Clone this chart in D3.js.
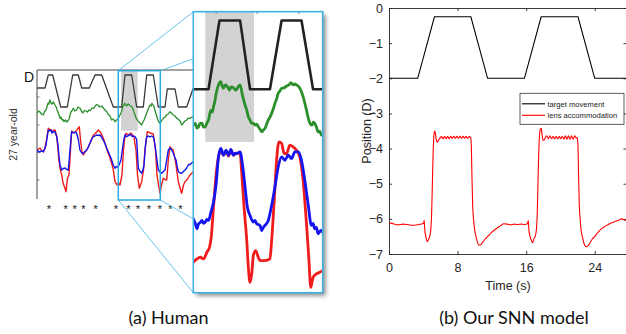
<!DOCTYPE html>
<html>
<head>
<meta charset="utf-8">
<script src="https://cdnjs.cloudflare.com/ajax/libs/d3/7.8.5/d3.min.js"></script>
<style>
  body { margin: 0; background: #fff; }
  svg { display: block; }
</style>
</head>
<body>
<svg id="fig" width="626" height="334"></svg>
<script>
// ---------- (a) human recording: overview strip, [time, stacked display value] ----------
const humanTarget = [[0,11.1],[2.67,11.1],[3.77,12.4],[5.23,12.4],[7.9,9.2],[10.1,9.2],[11.9,12.4],[13.77,12.4],
  [14.9,11.1],[17.43,11.1],[19.33,12.4],[21.57,12.4],[25.43,9.2],[28.23,9.2],[29.33,12.4],[31.57,12.4],[33.23,9.2],
  [35.43,9.2],[36.57,12.4],[38.77,12.4],[40.43,9.2],[42.67,9.2],[43.43,11.0],[46,11.0],[47.1,9.2],[49.9,9.2],[52.1,11.1]];

const humanPupil = [[0,8.57],[0.5,8.8],[1,8.7],[1.5,8.5],[2.1,8.4],[2.5,8.75],[3,8.9],[3.4,9.3],[3.7,9.6],[4,9.5],
  [4.3,9.9],[4.7,9.6],[5,9.5],[5.5,9.7],[6,9.4],[6.4,9.2],[6.7,8.9],[7.2,8.5],[7.7,8.07],[8,8.2],[8.3,7.9],[8.7,7.95],
  [9,7.73],[9.5,7.9],[10,7.7],[10.4,7.85],[10.7,8.0],[11,8.4],[11.3,8.7],[11.7,8.85],[12.1,9.07],[12.6,8.8],[13.2,8.9],
  [13.7,9.2],[14.3,9.1],[14.8,8.8],[15.3,8.6],[15.8,8.85],[16.3,8.8],[16.8,8.7],[17.3,8.9],[17.8,8.85],[18.3,9.1],
  [18.8,9.05],[19.3,9.23],[19.8,9.45],[20.3,9.4],[20.9,9.2],[21.6,9.3],[22.1,9.1],[22.7,8.9],[23.2,8.75],[23.7,8.5],
  [24.3,8.3],[24.9,7.9],[25.4,8.0],[26,7.73],[26.5,7.9],[27,8.0],[27.5,8.3],[28,8.6],[28.4,9.0],[28.7,9.3],[29,9.4],
  [29.3,9.57],[29.8,9.3],[30.4,9.5],[31,9.35],[31.6,9.23],[32,9.0],[32.3,8.7],[32.7,8.4],[33,8.1],[33.4,7.95],
  [33.8,7.73],[34.3,7.6],[34.9,7.4],[35.3,7.7],[35.7,7.9],[36.2,8.3],[36.7,8.7],[37.2,9.1],[37.7,9.4],[38,9.3],
  [38.3,9.57],[38.7,9.4],[39,9.2],[39.4,8.8],[39.7,8.5],[40,8.2],[40.3,7.9],[40.6,7.7],[41,7.57],[41.5,7.8],
  [42.1,8.07],[42.7,8.2],[43.2,8.4],[43.8,8.5],[44.3,8.73],[44.8,8.6],[45.4,8.4],[46,8.3],[46.6,8.07],[47.2,7.95],
  [47.7,7.8],[48.2,7.4],[48.8,7.6],[49.3,7.8],[49.9,7.9],[50.4,8.07],[51.2,8.1],[52.1,8.23]];

const humanLeftEye = [[0,4.9],[1,5.1],[1.6,4.8],[2.1,4.7],[2.6,5.1],[3,5.6],[3.4,6.4],[3.77,7.07],[4.3,6.9],[4.7,6.95],
  [5,6.7],[5.5,6.85],[6,6.9],[6.57,6.3],[7,4.9],[7.3,3.9],[7.67,3.1],[8.23,2.4],[8.67,1.6],[9.33,1.07],[9.67,0.73],
  [10.17,2.1],[10.67,2.4],[10.9,3.6],[11.17,4.9],[11.57,6.8],[12.33,6.6],[12.8,6.75],[13.33,6.9],[14.1,7.23],
  [14.5,5.9],[15,4.7],[15.43,4.4],[16,4.7],[16.57,4.9],[17.1,5.2],[17.67,5.6],[18.2,6.0],[18.77,6.4],[19.3,6.5],
  [19.9,6.7],[20.43,6.9],[21.33,6.6],[22.33,5.9],[23.33,4.9],[24.33,4.1],[25.33,3.1],[26,1.73],[26.67,1.4],
  [27.2,1.6],[27.67,1.4],[28.33,2.4],[28.83,4.9],[29.2,6.0],[29.67,6.57],[30.2,6.45],[30.67,6.4],[31.2,6.6],
  [31.67,6.5],[32.3,6.2],[33,4.9],[33.5,2.4],[34.1,1.07],[34.5,1.4],[34.9,1.73],[35.5,2.9],[36,4.9],[36.77,6.73],
  [37.2,6.7],[37.67,6.6],[38.2,6.55],[38.77,6.5],[39.5,4.9],[40,2.4],[40.5,1.4],[41,0.57],[41.5,1.4],[42.1,2.07],
  [42.7,1.95],[43.23,1.9],[43.77,3.9],[44.33,5.23],[44.9,5.0],[45.43,4.9],[46.33,3.4],[47.1,1.73],[47.7,1.1],
  [48.23,0.57],[48.83,1.4],[49.33,1.73],[50.2,2.0],[51,2.4],[52.1,2.73]];

const humanRightEye = [[0,4.9],[0.5,4.75],[1,4.7],[1.5,4.85],[2.1,4.73],[2.6,5.0],[3,5.4],[3.4,6.2],[3.77,6.9],[4.3,6.8],
  [4.7,6.9],[5,6.6],[5.5,6.75],[6,6.7],[6.57,6.23],[7,5.4],[7.3,4.4],[7.67,3.4],[8.23,2.9],[8.8,3.05],[9.3,3.1],
  [9.9,2.95],[10.4,2.9],[10.7,3.8],[11,4.9],[11.3,6.0],[11.57,6.73],[12,6.65],[12.3,6.6],[12.8,6.7],[13.2,6.57],
  [13.8,5.9],[14.3,4.9],[14.9,4.6],[15.43,4.57],[16,4.75],[16.57,4.9],[17.1,5.2],[17.67,5.6],[18.2,5.95],[18.77,6.23],
  [19.3,6.3],[19.9,6.4],[20.5,6.35],[21,6.4],[21.5,6.2],[22,5.9],[22.67,5.57],[23.2,5.1],[23.77,4.73],[24.2,4.4],
  [24.67,4.1],[25.1,3.7],[25.43,3.4],[26,3.07],[26.5,3.25],[27,3.2],[27.5,3.5],[28,3.9],[28.3,4.6],[28.67,5.4],
  [29,6.0],[29.33,6.4],[29.8,6.25],[30.33,6.3],[30.8,6.45],[31.33,6.4],[31.8,6.25],[32.33,6.3],[32.8,6.2],[33.23,5.9],
  [33.5,4.5],[33.77,3.07],[34.3,2.8],[34.9,2.57],[35.3,2.9],[35.67,3.4],[35.9,4.4],[36.17,5.4],[36.57,6.23],[37.1,6.3],
  [37.67,6.2],[38.2,6.3],[38.77,6.2],[39.05,5.9],[39.33,5.4],[39.9,4.1],[40.43,2.9],[41,2.7],[41.57,2.57],[42.1,2.75],
  [42.67,2.9],[43.23,3.9],[43.77,4.9],[44.33,5.1],[44.9,4.9],[45.43,4.6],[45.9,4.2],[46.33,3.9],[46.7,3.3],[47.1,2.73],
  [47.7,2.6],[48.23,2.57],[48.8,2.75],[49.33,2.9],[49.9,3.1],[50.43,3.4],[51.2,3.5],[52.1,3.73]];

const starTimes = [4, 9.57, 12.57, 15.43, 19.57, 26.33, 30.43, 33.67, 37.33, 41, 44.43, 47.77];
const overviewWindow = [27.1, 41.1];   // part of the strip shown enlarged
const overviewShade = [28, 33.57];

// ---------- (a) enlarged window ----------
const zoomTarget = [[0,20.27],[1.53,20.27],[2.63,27.13],[4.7,27.13],[5.7,20.27],[7.7,20.27],[8.87,27.13],
  [10.87,27.13],[12.03,20.27],[13,20.27]];
const zoomPupil = [[0,16.7],[0.2,16.87],[0.37,16.4],[0.53,16.53],[0.7,16.9],[0.87,16.87],[1.03,16.5],[1.2,16.53],
  [1.37,16.9],[1.53,17.2],[1.77,18.2],[1.9,18.0],[2.03,18.53],[2.17,19.1],[2.3,19.87],[2.53,20.7],[2.77,21.03],
  [2.9,20.6],[3.03,20.37],[3.2,20.7],[3.37,20.6],[3.5,20.4],[3.63,20.2],[3.8,20.5],[3.97,20.47],[4.13,20.3],
  [4.3,20.2],[4.5,20.5],[4.7,20.7],[4.97,19.53],[5.2,18.7],[5.37,18.2],[5.53,17.53],[5.7,17.2],[5.87,16.87],
  [6.03,16.9],[6.2,16.7],[6.37,16.8],[6.53,16.53],[6.7,16.3],[6.87,16.03],[7.03,16.2],[7.2,16.37],[7.37,16.8],
  [7.53,17.2],[7.7,17.5],[7.87,17.87],[8.03,18.3],[8.2,18.87],[8.37,19.3],[8.53,19.87],[8.7,20.1],[8.87,20.37],
  [9.1,20.4],[9.37,20.6],[9.6,20.7],[9.8,20.93],[10.03,20.7],[10.2,20.8],[10.37,20.7],[10.53,20.6],[10.7,20.37],
  [10.87,20.0],[11.03,19.53],[11.2,18.9],[11.37,18.2],[11.6,17.2],[11.77,16.8],[11.93,16.7],[12.07,17.0],
  [12.2,16.87],[12.37,16.5],[12.53,16.03],[12.7,16.1],[12.87,15.7],[13,15.8]];
const zoomLeftEye = [[0,3.03],[0.37,3.37],[0.7,3.53],[1.03,3.37],[1.37,4.03],[1.63,4.53],[1.8,5.53],[2.03,8.53],
  [2.3,11.87],[2.53,13.53],[2.77,14.2],[3.03,13.7],[3.3,14.1],[3.53,13.6],[3.77,14.2],[4.03,13.7],[4.37,13.9],
  [4.7,13.87],[4.87,11.87],[5.1,8.53],[5.37,5.2],[5.53,2.53],[5.7,1.03],[5.87,1.87],[6.03,3.7],[6.27,4.2],
  [6.53,3.53],[6.7,3.2],[7.2,3.2],[7.7,3.37],[7.87,5.2],[8.13,9.2],[8.37,13.2],[8.6,15.03],[8.87,14.87],
  [9.13,13.87],[9.37,13.87],[9.7,14.7],[10.03,14.53],[10.37,14.2],[10.7,13.53],[11.03,11.2],[11.37,6.87],
  [11.6,3.53],[11.8,0.53],[12.03,1.53],[12.37,1.87],[12.7,2.03],[13,2.2]];
const zoomRightEye = [[0,7.37],[0.2,6.9],[0.37,6.37],[0.53,6.87],[0.7,7.0],[0.87,7.2],[1.03,6.9],[1.2,7.03],
  [1.37,7.3],[1.53,7.2],[1.77,8.03],[2.03,9.03],[2.3,10.87],[2.53,13.53],[2.77,14.37],[3.03,13.7],[3.3,14.2],
  [3.53,13.7],[3.77,14.27],[4.03,13.7],[4.2,13.9],[4.37,13.87],[4.7,14.03],[4.97,12.53],[5.2,10.53],[5.43,8.53],
  [5.7,7.7],[6.03,7.03],[6.2,7.2],[6.37,6.87],[6.7,6.7],[6.87,6.2],[7.03,6.5],[7.2,6.7],[7.53,7.2],[7.87,8.7],
  [8.2,10.53],[8.53,12.53],[8.87,13.53],[9.2,13.2],[9.53,13.7],[9.87,13.37],[10.2,14.03],[10.53,14.03],
  [10.87,13.2],[11.2,11.2],[11.53,8.87],[11.87,6.7],[12.03,6.9],[12.2,6.37],[12.37,6.5],[12.53,5.87],
  [12.7,6.1],[12.87,6.2],[13,6.0]];
const zoomShade = [1.2, 6.1];
const zoomShadeLow = 15.03;
const zoomTopTicks = [2.3, 6.43, 10.6];

// ---------- (b) SNN model, [time (s), position (D)] ----------
const modelTarget = [[0,-2],[3.35,-2],[5.3,-0.25],[9.55,-0.25],[11.5,-2],[15.8,-2],[17.75,-0.25],[22.05,-0.25],
  [24.0,-2],[28,-2]];
const modelLens = [[0,-6.11],[0.5,-6.14],[1.1,-6.17],[1.6,-6.15],[2.1,-6.16],[2.6,-6.18],[3.0,-6.18],[3.5,-6.16],
  [3.9,-6.14],[4.05,-6.12],[4.1,-6.04],[4.17,-6.3],[4.3,-6.5],[4.47,-6.65],[4.62,-6.58],[4.75,-6.5],[4.88,-6.3],
  [4.98,-5.8],[5.06,-5.0],[5.14,-4.2],[5.22,-3.7],[5.3,-3.52],[5.36,-3.5],[5.44,-3.62],[5.54,-3.78],[5.64,-3.82],
  [5.78,-3.76],[5.95,-3.7],[6.12,-3.66],[6.3,-3.72],[6.48,-3.65],[6.66,-3.72],[6.84,-3.65],[7.02,-3.72],[7.2,-3.65],
  [7.38,-3.71],[7.56,-3.65],[7.74,-3.71],[7.92,-3.65],[8.1,-3.71],[8.28,-3.65],[8.46,-3.71],[8.64,-3.65],[8.82,-3.71],
  [9.0,-3.65],[9.18,-3.71],[9.36,-3.66],[9.52,-3.68],[9.6,-3.9],[9.68,-4.8],[9.76,-5.6],[9.86,-6.0],[9.96,-6.25],
  [10.1,-6.45],[10.3,-6.65],[10.5,-6.75],[10.7,-6.74],[10.9,-6.67],[11.2,-6.58],[11.6,-6.48],[12.0,-6.38],
  [12.5,-6.28],[13.0,-6.2],[13.4,-6.14],[13.8,-6.15],[14.2,-6.17],[14.6,-6.15],[15.0,-6.16],[15.4,-6.15],
  [15.8,-6.16],[16.15,-6.14],[16.25,-6.05],[16.32,-6.3],[16.45,-6.5],[16.62,-6.62],[16.75,-6.68],[16.9,-6.57],
  [17.05,-6.5],[17.2,-6.3],[17.3,-5.8],[17.38,-5.0],[17.46,-4.2],[17.54,-3.7],[17.62,-3.48],[17.7,-3.42],
  [17.78,-3.45],[17.88,-3.65],[17.98,-3.76],[18.1,-3.76],[18.25,-3.68],[18.42,-3.64],[18.6,-3.72],[18.78,-3.64],
  [18.96,-3.72],[19.14,-3.65],[19.32,-3.72],[19.5,-3.66],[19.68,-3.72],[19.86,-3.66],[20.04,-3.72],[20.22,-3.65],
  [20.4,-3.73],[20.58,-3.64],[20.76,-3.73],[20.94,-3.64],[21.12,-3.74],[21.3,-3.64],[21.48,-3.74],[21.66,-3.64],
  [21.84,-3.7],[21.96,-3.68],[22.04,-3.9],[22.12,-4.8],[22.2,-5.6],[22.3,-6.0],[22.4,-6.3],[22.55,-6.5],
  [22.75,-6.7],[22.95,-6.79],[23.15,-6.78],[23.4,-6.7],[23.7,-6.58],[24.0,-6.5],[24.4,-6.38],[24.8,-6.28],
  [25.3,-6.2],[25.8,-6.13],[26.3,-6.08],[26.8,-6.04],[27.15,-6.0],[27.5,-6.04],[28,-6.03]];
const modelYTicks = [-7, -6, -5, -4, -3, -2, -1, 0];
const modelXTicks = [0, 8, 16, 24];
const legendLabels = ["target movement", "lens accommodation"];
const legendColors = ["#000000", "#ff0000"];

const captions = ["(a) Human", "(b) Our SNN model"];

const fig = d3.select("#fig");
const ink = "#262626";

// ---------------------------------------------------------------- overview strip
const overX = d3.scaleLinear().domain([0, 52]).range([37, 193]);
const overY = d3.scaleLinear().domain([0, 12.9]).range([199, 70]);

const drawOverview = () => {
  const g = fig.append("g");
  const line = d3.line().x((d) => overX(d[0])).y((d) => overY(d[1]));

  g.append("rect")
    .attr("x", overX(overviewShade[0]))
    .attr("y", overY(12.9))
    .attr("width", overX(overviewShade[1]) - overX(overviewShade[0]))
    .attr("height", overY(6.83) - overY(12.9))
    .attr("fill", "#d2d2d2");

  // frame: top and left only
  g.append("path")
    .attr("d", `M${overX(52)},${overY(12.9)}H${overX(0)}V${overY(0)}`)
    .attr("fill", "none").attr("stroke", "#444").attr("stroke-width", 1);
  g.selectAll("line.tick").data([1.9, 4.65, 7.4, 10.2]).enter().append("line")
    .attr("x1", overX(0)).attr("x2", overX(0) + 2.5)
    .attr("y1", (d) => overY(d)).attr("y2", (d) => overY(d))
    .attr("stroke", "#555").attr("stroke-width", 0.8);

  const traces = [
    [humanTarget, "#3a3a3a", 1.3],
    [humanPupil, "#2b8f2b", 1.3],
    [humanLeftEye, "#f01c1c", 1.4],
    [humanRightEye, "#1414f0", 1.4],
  ];
  traces.forEach(([data, color, w]) => {
    g.append("path").datum(data).attr("d", line)
      .attr("fill", "none").attr("stroke", color).attr("stroke-width", w)
      .attr("stroke-linejoin", "round");
  });

  g.selectAll("text.star").data(starTimes).enter().append("text")
    .attr("x", (d) => overX(d)).attr("y", 213)
    .attr("text-anchor", "middle")
    .attr("font-family", "Liberation Sans, Arial, sans-serif")
    .attr("font-size", 11).attr("fill", "#111")
    .text("*");

  g.append("text").attr("x", overX(0) - 3).attr("y", overY(11.7))
    .attr("text-anchor", "end")
    .attr("font-family", "Liberation Sans, Arial, sans-serif")
    .attr("font-size", 14).attr("fill", "#111").text("D");

  g.append("text")
    .attr("transform", `translate(17,${(overY(0) + overY(12.9)) / 2 + 0}) rotate(-90)`)
    .attr("text-anchor", "middle")
    .attr("font-family", "Liberation Sans, Arial, sans-serif")
    .attr("font-size", 10.5).attr("fill", "#333").text("27 year-old");
};

// ---------------------------------------------------------------- enlarged panel
const zoomX = d3.scaleLinear().domain([0, 13]).range([193.3, 322.7]);
const zoomY = d3.scaleLinear().domain([0, 28]).range([292.7, 11.7]);

const drawConnectors = () => {
  const bx0 = overX(overviewWindow[0]), bx1 = overX(overviewWindow[1]);
  const by0 = overY(12.9) + 0.7, by1 = overY(0) + 1;
  const [px0, px1] = zoomX.range();
  const [py1, py0] = zoomY.range();
  const links = [[bx0, by0, px0, py0], [bx1, by0, px1, py0], [bx0, by1, px0, py1], [bx1, by1, px1, py1]];
  fig.append("g").selectAll("line").data(links).enter().append("line")
    .attr("x1", (d) => d[0]).attr("y1", (d) => d[1])
    .attr("x2", (d) => d[2]).attr("y2", (d) => d[3])
    .attr("stroke", "#55bde8").attr("stroke-width", 0.9);
  fig.append("rect")
    .attr("x", bx0).attr("y", by0).attr("width", bx1 - bx0).attr("height", by1 - by0)
    .attr("fill", "none").attr("stroke", "#2aa8e0").attr("stroke-width", 1.5);
};

const drawZoom = () => {
  const defs = fig.append("defs");
  const f = defs.append("filter").attr("id", "shadow")
    .attr("x", "-10%").attr("y", "-10%").attr("width", "130%").attr("height", "130%");
  f.append("feDropShadow").attr("dx", 3).attr("dy", 3).attr("stdDeviation", 2.2)
    .attr("flood-color", "#000").attr("flood-opacity", 0.45);
  defs.append("clipPath").attr("id", "zoomClip").append("rect")
    .attr("x", zoomX(0)).attr("y", zoomY(28))
    .attr("width", zoomX(13) - zoomX(0)).attr("height", zoomY(0) - zoomY(28));

  const g = fig.append("g");
  g.append("rect")
    .attr("x", zoomX(0)).attr("y", zoomY(28))
    .attr("width", zoomX(13) - zoomX(0)).attr("height", zoomY(0) - zoomY(28))
    .attr("fill", "#fff").attr("filter", "url(#shadow)");

  const inner = g.append("g").attr("clip-path", "url(#zoomClip)");
  inner.append("rect")
    .attr("x", zoomX(zoomShade[0])).attr("y", zoomY(28))
    .attr("width", zoomX(zoomShade[1]) - zoomX(zoomShade[0]))
    .attr("height", zoomY(zoomShadeLow) - zoomY(28))
    .attr("fill", "#d3d3d3");
  inner.selectAll("line.tt").data(zoomTopTicks).enter().append("line")
    .attr("x1", (d) => zoomX(d)).attr("x2", (d) => zoomX(d))
    .attr("y1", zoomY(28)).attr("y2", zoomY(28) + 2)
    .attr("stroke", "#888").attr("stroke-width", 1.2);

  const line = d3.line().x((d) => zoomX(d[0])).y((d) => zoomY(d[1])).curve(d3.curveMonotoneX);
  const traces = [
    [zoomTarget, "#222", 2.6, d3.curveLinear],
    [zoomPupil, "#2b8f2b", 2.8, d3.curveMonotoneX],
    [zoomLeftEye, "#f01c1c", 2.8, d3.curveMonotoneX],
    [zoomRightEye, "#1414f0", 2.8, d3.curveMonotoneX],
  ];
  traces.forEach(([data, color, w, curve]) => {
    inner.append("path").datum(data).attr("d", line.curve(curve))
      .attr("fill", "none").attr("stroke", color).attr("stroke-width", w)
      .attr("stroke-linejoin", "round").attr("stroke-linecap", "round");
  });

  g.append("rect")
    .attr("x", zoomX(0)).attr("y", zoomY(28))
    .attr("width", zoomX(13) - zoomX(0)).attr("height", zoomY(0) - zoomY(28))
    .attr("fill", "none").attr("stroke", "#3fb2e4").attr("stroke-width", 1.6);
};

// ---------------------------------------------------------------- model panel
const modelX = d3.scaleLinear().domain([0, 28]).range([389, 629]);
const modelY = d3.scaleLinear().domain([-7, 0]).range([254, 8]);

const drawModel = () => {
  const g = fig.append("g").attr("font-family", "Liberation Sans, Arial, sans-serif");

  const yAxis = d3.axisLeft(modelY).tickValues(modelYTicks).tickSizeInner(-3).tickSizeOuter(0)
    .tickPadding(6).tickFormat(d3.format("d"));
  const xAxis = d3.axisBottom(modelX).tickValues(modelXTicks).tickSizeInner(-3).tickSizeOuter(0)
    .tickPadding(9);
  const topAxis = d3.axisTop(modelX).tickValues(modelXTicks).tickSizeInner(-3).tickSizeOuter(0).tickFormat("");
  const rightAxis = d3.axisRight(modelY).tickValues(modelYTicks).tickSizeInner(-3).tickSizeOuter(0).tickFormat("");

  const styleAxis = (sel) => {
    sel.select(".domain").attr("stroke", ink).attr("stroke-width", 0.9);
    sel.selectAll(".tick line").attr("stroke", ink).attr("stroke-width", 0.9);
    sel.selectAll(".tick text").attr("fill", ink).attr("font-size", 12.5);
  };
  g.append("g").attr("transform", `translate(${modelX(0)},0)`).call(yAxis).call(styleAxis);
  g.append("g").attr("transform", `translate(0,${modelY(-7)})`).call(xAxis).call(styleAxis);
  g.append("g").attr("transform", `translate(0,${modelY(0)})`).call(topAxis).call(styleAxis);
  g.append("g").attr("transform", `translate(${modelX(28) - 2.5},0)`).call(rightAxis).call(styleAxis);

  const line = d3.line().x((d) => modelX(d[0])).y((d) => modelY(d[1]));
  g.append("path").datum(modelTarget).attr("d", line)
    .attr("fill", "none").attr("stroke", "#000").attr("stroke-width", 1.1);
  g.append("path").datum(modelLens).attr("d", line.curve(d3.curveMonotoneX))
    .attr("fill", "none").attr("stroke", "#ff0000").attr("stroke-width", 1.1);

  // legend
  const lx = 520, ly = 93.3;
  const leg = g.append("g").attr("transform", `translate(${lx},${ly})`);
  leg.append("rect").attr("width", 104).attr("height", 31)
    .attr("fill", "#fff").attr("stroke", "#333").attr("stroke-width", 0.8);
  const item = leg.selectAll("g.item").data(legendLabels).enter().append("g")
    .attr("transform", (d, i) => `translate(0,${10.5 + i * 11.5})`);
  item.append("line").attr("x1", 2).attr("x2", 25)
    .attr("stroke", (d, i) => legendColors[i]).attr("stroke-width", 1.1);
  item.append("text").attr("x", 27.5).attr("y", 2.7)
    .attr("font-size", 7.6).attr("fill", "#222").text((d) => d);

  g.append("text").attr("x", (modelX(0) + 627) / 2).attr("y", 289.5)
    .attr("text-anchor", "middle").attr("font-size", 12.5).attr("fill", ink).text("Time (s)");
  g.append("text")
    .attr("transform", `translate(371,${(modelY(0) + modelY(-7)) / 2}) rotate(-90)`)
    .attr("text-anchor", "middle").attr("font-size", 12.5).attr("fill", ink).text("Position (D)");
};

const drawCaptions = () => {
  fig.selectAll("text.caption").data(captions).enter().append("text")
    .attr("x", (d, i) => [168.5, 514][i]).attr("y", 324)
    .attr("text-anchor", "middle")
    .attr("font-family", "Lato, Open Sans, sans-serif")
    .attr("font-size", 18).attr("fill", "#111")
    .text((d) => d);
};

drawOverview();
drawConnectors();
drawZoom();
drawModel();
drawCaptions();
</script>
</body>
</html>
